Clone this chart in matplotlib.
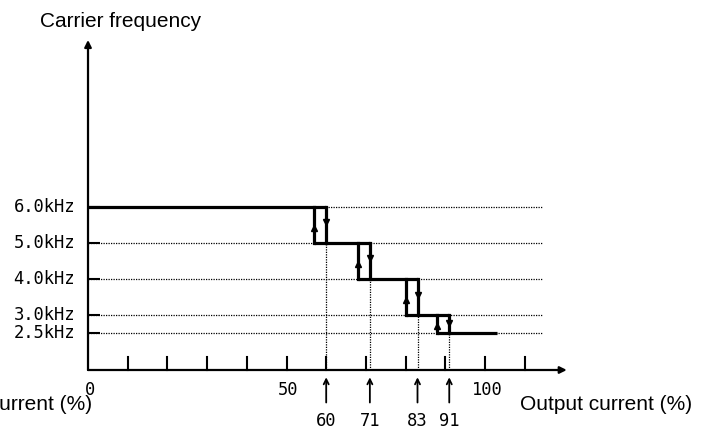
import matplotlib
matplotlib.use('Agg')
import matplotlib.pyplot as plt

# ---- data ----
levels_khz = [6.0, 5.0, 4.0, 3.0, 2.5]
level_labels = ['6.0kHz', '5.0kHz', '4.0kHz', '3.0kHz', '2.5kHz']
down_thresholds = [60, 71, 83, 91]      # current where frequency steps down
up_thresholds = [57, 68, 80, 88]        # current where frequency steps back up
curve_end = 103
x_tick_values = [0, 50, 100]
x_tick_labels = ['0', '50', '100']
x_minor_ticks = [10, 20, 30, 40, 50, 60, 70, 80, 90, 100, 110]
threshold_labels = ['60', '71', '83', '91']

# ---- layout ----
fig = plt.figure(figsize=(7.1, 4.28), dpi=100)
ax = fig.add_axes([0, 0, 1, 1])
ax.set_xlim(-22.17, 156.68)
ax.set_ylim(-0.128, 11.76)
ax.axis('off')

y_base = 1.483      # kHz value where x-axis sits
x_arrow_end = 120.6
y_arrow_end = 10.65
grid_end = 114.6
mono = 'DejaVu Sans Mono'
dot = (0, (1, 1.0))

# dotted horizontal guides + short ticks + labels
for k, lab in zip(levels_khz, level_labels):
    ax.plot([0, grid_end], [k, k], color='black', lw=0.9, ls=dot)
    ax.plot([0, 3], [k, k], color='black', lw=1.5, solid_capstyle='butt')
    ax.text(-3.3, k, lab, ha='right', va='center', family=mono, fontsize=12.3)

# dotted verticals from step-down points to axis
for d, k in zip(down_thresholds, levels_khz[1:]):
    ax.plot([d, d], [y_base, k], color='black', lw=0.9, ls=dot)

# step (hysteresis) curve
starts = [0] + up_thresholds
ends = down_thresholds + [curve_end]
for k, s, e in zip(levels_khz, starts, ends):
    ax.plot([s, e], [k, k], color='black', lw=2.3, solid_capstyle='butt')
for i in range(len(down_thresholds)):
    hi, lo = levels_khz[i], levels_khz[i + 1]
    d, u = down_thresholds[i], up_thresholds[i]
    ax.plot([d, d], [lo, hi], color='black', lw=2.3, solid_capstyle='projecting')
    ax.plot([u, u], [lo, hi], color='black', lw=2.3, solid_capstyle='projecting')
    mid = (hi + lo) / 2
    ax.plot([d], [mid + 0.08 * (hi - lo)], marker='v', color='black', ms=5)
    ax.plot([u], [mid - 0.08 * (hi - lo)], marker='^', color='black', ms=5)

# axes with arrows
ax.annotate('', xy=(0, y_arrow_end), xytext=(0, y_base),
            arrowprops=dict(arrowstyle='-|>', lw=1.6, color='black',
                            mutation_scale=10, shrinkA=0, shrinkB=0))
ax.annotate('', xy=(x_arrow_end, y_base), xytext=(0, y_base),
            arrowprops=dict(arrowstyle='-|>', lw=1.6, color='black',
                            mutation_scale=10, shrinkA=0, shrinkB=0))

# x ticks
for t in x_minor_ticks:
    ax.plot([t, t], [y_base, y_base + 0.36], color='black', lw=1.5)
for t, lab in zip(x_tick_values, x_tick_labels):
    ax.text(t + 0.5, 0.93, lab, ha='center', va='center', family=mono, fontsize=12.3)

# threshold arrows and labels below axis
for d, lab in zip(down_thresholds, threshold_labels):
    ax.annotate('', xy=(d, 1.28), xytext=(d, 0.58),
                arrowprops=dict(arrowstyle='->', lw=1.3, color='black',
                                mutation_scale=9, shrinkA=0, shrinkB=0))
    ax.text(d, 0.07, lab, ha='center', va='center', family=mono, fontsize=12.3)

# axis titles
fig.text(40 / 710, 1 - 27 / 428, 'Carrier frequency', family='Liberation Sans',
         fontsize=15, ha='left', va='baseline')
fig.text(520 / 710, 1 - 410 / 428, 'Output current (%)', family='Liberation Sans',
         fontsize=15, ha='left', va='baseline')
fig.text(92 / 710, 1 - 410 / 428, 'Output current (%)', family='Liberation Sans',
         fontsize=15, ha='right', va='baseline')

fig.savefig('out.png', dpi=100)
